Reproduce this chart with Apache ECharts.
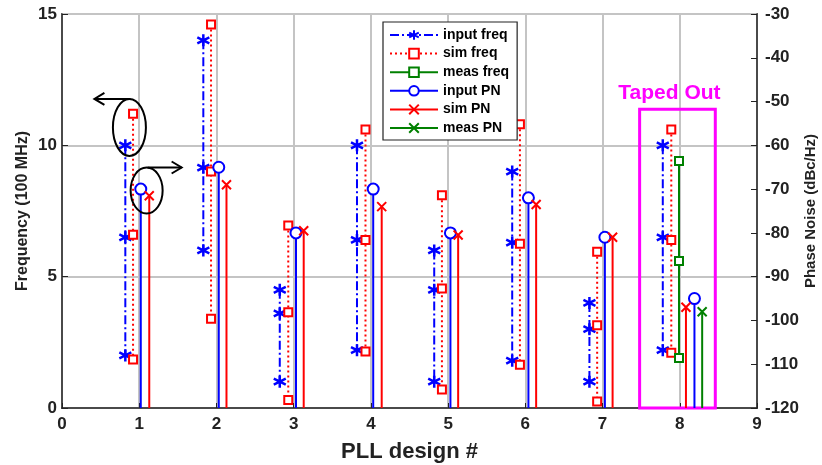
<!DOCTYPE html>
<html>
<head>
<meta charset="utf-8">
<script src="https://cdn.jsdelivr.net/npm/echarts@6/dist/echarts.min.js"></script>
<style>
  html, body { margin: 0; padding: 0; background: #fff; }
  #chart { width: 822px; height: 465px; }
</style>
</head>
<body>
<div id="chart"></div>
<script>
// values: x positions (design # units) and levels
const X_TICKS = [0, 1, 2, 3, 4, 5, 6, 7, 8, 9];

const INPUT_FREQ_X = [0.82, 1.83, 2.82, 3.82, 4.82, 5.83, 6.83, 7.78];
const INPUT_FREQ = [
  [10, 6.5, 2.0], [14, 9.15, 6.0], [4.5, 3.6, 1.0], [10, 6.4, 2.2],
  [6.0, 4.5, 1.0], [9.0, 6.3, 1.8], [4.0, 3.0, 1.0], [10, 6.5, 2.2]
];
const SIM_FREQ_X = [0.92, 1.93, 2.93, 3.93, 4.92, 5.93, 6.93, 7.89];
const SIM_FREQ = [
  [11.2, 6.6, 1.85], [14.6, 9.0, 3.4], [6.95, 3.65, 0.3], [10.6, 6.4, 2.15],
  [8.1, 4.55, 0.7], [10.8, 6.25, 1.65], [5.95, 3.15, 0.25], [10.6, 6.4, 2.1]
];
const MEAS_FREQ_X = [7.99];
const MEAS_FREQ = [[9.4, 5.6, 1.9]];

const INPUT_PN_X = [1.02, 2.03, 3.03, 4.03, 5.03, 6.04, 7.03, 8.19];
const INPUT_PN = [-70, -65, -80, -70, -80, -72, -81, -95];
const SIM_PN_X = [1.13, 2.13, 3.13, 4.14, 5.13, 6.14, 7.13, 8.08];
const SIM_PN = [-71.5, -69, -79.5, -74, -80.5, -73.5, -81, -97];
const MEAS_PN_X = [8.29];
const MEAS_PN = [-98];

const STAR = 'path://M0,-10L0,10M-8.66,-5L8.66,5M-8.66,5L8.66,-5';
const CROSS = 'path://M-10,-10L10,10M-10,10L10,-10';
const FONT = 'Liberation Sans';

function freqSeries(name, xs, vals, color, type, symbol, size) {
  return xs.map((x, i) => ({
    name: name,
    type: 'line',
    yAxisIndex: 0,
    symbol: symbol,
    symbolSize: size,
    data: vals[i].map(v => [x, v]),
    lineStyle: { color: color, width: 2, type: type },
    itemStyle: { color: symbol === STAR ? color : '#fff', borderColor: color, borderWidth: symbol === STAR ? 2.5 : 2 },
    animation: false,
    z: 3
  }));
}

function pnSeries(name, xs, vals, color, symbol, size) {
  return xs.map((x, i) => ({
    name: name,
    type: 'line',
    yAxisIndex: 1,
    symbol: symbol,
    symbolSize: size,
    data: [{ value: [x, -120], symbol: 'none' }, { value: [x, vals[i]] }],
    lineStyle: { color: color, width: 2 },
    itemStyle: { color: symbol === CROSS ? color : '#fff', borderColor: color, borderWidth: 2 },
    animation: false,
    z: 3
  }));
}

const chart = echarts.init(document.getElementById('chart'));

const series = [].concat(
  freqSeries('input freq', INPUT_FREQ_X, INPUT_FREQ, '#0000ff', [9, 3, 2, 3], STAR, 12),
  freqSeries('sim freq', SIM_FREQ_X, SIM_FREQ, '#ff0000', [2, 3], 'rect', 8),
  freqSeries('meas freq', MEAS_FREQ_X, MEAS_FREQ, '#008000', 'solid', 'rect', 8),
  pnSeries('input PN', INPUT_PN_X, INPUT_PN, '#0000ff', 'circle', 11),
  pnSeries('sim PN', SIM_PN_X, SIM_PN, '#ff0000', CROSS, 9),
  pnSeries('meas PN', MEAS_PN_X, MEAS_PN, '#008000', CROSS, 9)
);

// Taped Out box around design 8
series.push({
  name: 'taped',
  type: 'line',
  yAxisIndex: 0,
  data: [],
  silent: true,
  markArea: {
    silent: true,
    itemStyle: { color: 'rgba(0,0,0,0)', borderColor: '#ff00ff', borderWidth: 3 },
    label: {
      show: true, position: 'top', distance: 4, offset: [-8, 0],
      color: '#ff00ff', fontFamily: FONT, fontWeight: 'bold', fontSize: 21
    },
    data: [[{ name: 'Taped Out', xAxis: 7.48, yAxis: 0 }, { xAxis: 8.46, yAxis: 11.37 }]]
  }
});

const option = {
  backgroundColor: '#fff',
  textStyle: { fontFamily: FONT },
  grid: {
    left: 62, right: 65, top: 14, bottom: 57,
    outerBoundsMode: 'none', containLabel: false,
    show: true, borderColor: '#222', borderWidth: 1.5, backgroundColor: '#fff'
  },
  legend: {
    data: ['input freq', 'sim freq', 'meas freq', 'input PN', 'sim PN', 'meas PN'],
    orient: 'vertical',
    left: 383, top: 22,
    padding: [6, 8, 5, 6],
    itemWidth: 48, itemHeight: 12, itemGap: 4.6,
    backgroundColor: '#fff',
    borderColor: '#222', borderWidth: 1.2,
    textStyle: { fontFamily: FONT, fontWeight: 'bold', fontSize: 14, color: '#000' }
  },
  xAxis: {
    type: 'value', min: 0, max: 9, interval: 1,
    name: 'PLL design #', nameLocation: 'middle', nameGap: 33,
    nameTextStyle: { fontFamily: FONT, fontWeight: 'bold', fontSize: 22, color: '#222' },
    axisLine: { lineStyle: { color: '#222', width: 1.5 } },
    axisTick: { inside: true, length: 5, lineStyle: { color: '#222' } },
    axisLabel: { margin: 8, fontFamily: FONT, fontWeight: 'bold', fontSize: 17, color: '#222',
      formatter: v => X_TICKS.includes(v) ? String(v) : '' },
    splitLine: { show: true, lineStyle: { color: '#c4c4c4', width: 2 } }
  },
  yAxis: [
    {
      type: 'value', min: 0, max: 15, interval: 5, position: 'left',
      name: 'Frequency (100 MHz)', nameLocation: 'middle', nameGap: 31, nameRotate: 90,
      nameMoveOverlap: false,
      nameTextStyle: { fontFamily: FONT, fontWeight: 'bold', fontSize: 16, color: '#222' },
      axisLine: { show: true, lineStyle: { color: '#222', width: 1.5 } },
      axisTick: { show: true, inside: true, length: 6, lineStyle: { color: '#222' } },
      axisLabel: { margin: 5, fontFamily: FONT, fontWeight: 'bold', fontSize: 17, color: '#222' },
      splitLine: { show: true, lineStyle: { color: '#c4c4c4', width: 2 } }
    },
    {
      type: 'value', min: -120, max: -30, interval: 10, position: 'right',
      name: 'Phase Noise (dBc/Hz)', nameLocation: 'middle', nameGap: 46, nameRotate: 90,
      nameMoveOverlap: false,
      nameTextStyle: { fontFamily: FONT, fontWeight: 'bold', fontSize: 15, color: '#222' },
      axisLine: { show: true, lineStyle: { color: '#222', width: 1.5 } },
      axisTick: { show: true, inside: true, length: 6, lineStyle: { color: '#222' } },
      axisLabel: { margin: 8, fontFamily: FONT, fontWeight: 'bold', fontSize: 17, color: '#222' },
      splitLine: { show: false }
    }
  ],
  series: series
};

chart.setOption(option);

// black ellipses + arrows pointing to the axis each group belongs to
function px(x, y) {
  return chart.convertToPixel({ xAxisIndex: 0, yAxisIndex: 0 }, [x, y]);
}
function arrow(from, to) {
  const dir = Math.sign(to[0] - from[0]);
  return [
    { type: 'line', shape: { x1: from[0], y1: from[1], x2: to[0], y2: to[1] }, style: { stroke: '#000', lineWidth: 2 }, z: 10 },
    { type: 'polyline', shape: { points: [[to[0] - dir * 10, to[1] - 6], to, [to[0] - dir * 10, to[1] + 6]] }, style: { stroke: '#000', lineWidth: 2, fill: null }, z: 10 }
  ];
}
const e1 = px(0.873, 10.68);
const e2 = px(1.096, 8.28);
chart.setOption({
  graphic: [
    { type: 'ellipse', shape: { cx: e1[0], cy: e1[1], rx: 16.5, ry: 28.5 }, style: { stroke: '#000', lineWidth: 2, fill: null }, z: 10 },
    { type: 'ellipse', shape: { cx: e2[0], cy: e2[1], rx: 16, ry: 23 }, style: { stroke: '#000', lineWidth: 2, fill: null }, z: 10 }
  ].concat(
    arrow([e1[0] + 1, e1[1] - 28.5], [e1[0] - 35, e1[1] - 28.5]),
    arrow([e2[0] + 1, e2[1] - 23], [e2[0] + 35, e2[1] - 23])
  )
});
</script>
</body>
</html>
